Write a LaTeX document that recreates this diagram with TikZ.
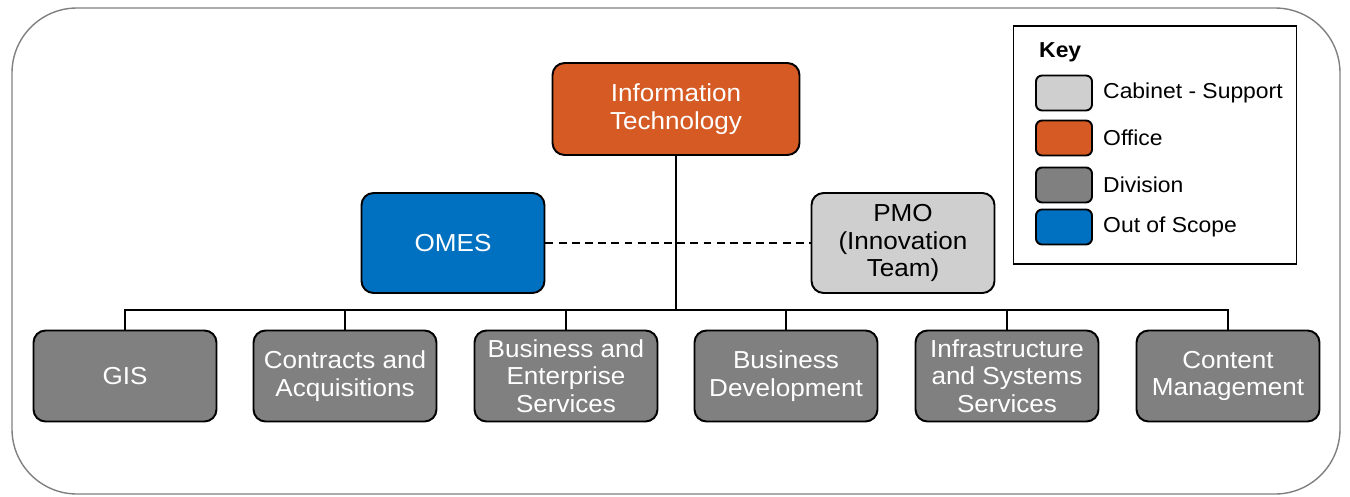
\documentclass[tikz,border=0pt]{standalone}
\usepackage{fontspec}
\setmainfont[FakeStretch=1.06]{Liberation Sans}
\usepackage{xcolor}
\usepackage{tikz}

\definecolor{office}{HTML}{D55A24}
\definecolor{outscope}{HTML}{0070C0}
\definecolor{cabinet}{HTML}{CFCFCF}
\definecolor{division}{HTML}{808080}

\begin{document}
\begin{tikzpicture}[
    x=0.02cm, y=-0.02cm,
    unit/.style={rectangle, rounded corners=0.24cm, draw, line width=1.1pt, align=center, inner sep=1pt, font=\fontsize{14}{15.6}\selectfont},
    divbox/.style={unit, fill=division, text=white, minimum width=3.66cm, minimum height=1.82cm},
    swatch/.style={rectangle, rounded corners=0.12cm, draw, line width=1.1pt, minimum width=1.12cm, minimum height=0.7cm},
    keytext/.style={anchor=west, font=\fontsize{12.3}{14}\selectfont},
    link/.style={line width=1.1pt}
]
\useasboundingbox (0,0) rectangle (1350,497);

% Frame
\draw[gray, line width=0.8pt, rounded corners=1.3cm] (12,8) rectangle (1340,494);

% Top: office and its partners
\node[unit, fill=office, text=white, minimum width=4.94cm, minimum height=1.84cm] (IT) at (676,109) {Information\\Technology};
\node[unit, fill=outscope, text=white, minimum width=3.66cm, minimum height=2cm] (OMES) at (453,243) {OMES};
\node[unit, fill=cabinet, minimum width=3.66cm, minimum height=2cm] (PMO) at (903,243) {PMO\\(Innovation\\Team)};

% Bottom: divisions
\node[divbox] (GIS) at (125,376) {GIS};
\node[divbox] (CA) at (345,376) {Contracts and\\Acquisitions};
\node[divbox] (BES) at (566,376) {Business and\\Enterprise\\Services};
\node[divbox] (BD) at (786,376) {Business\\Development};
\node[divbox] (ISS) at (1007,376) {Infrastructure\\and Systems\\Services};
\node[divbox] (CM) at (1228,376) {Content\\Management};

% Connections
\coordinate (bus) at (676,310);
\draw[link, line width=1.4pt] (IT) -- (bus);
\draw[link] (GIS.north) |- (bus) -| (CM.north);
\foreach \n in {CA,BES,BD,ISS}
    \draw[link] (\n.north) -- (\n.north |- bus);
\draw[link, dash pattern=on 4.5pt off 3pt] (OMES) -- (PMO);

% Key
\node[draw, line width=0.8pt, minimum width=5.66cm, minimum height=4.76cm] (key) at (1155,145) {};
\node[anchor=west, font=\fontsize{12.3}{14}\selectfont\bfseries] (keytitle) at (1033,52) {Key};
\node[swatch, fill=cabinet] (k1) at (1064,93) {};
\node[swatch, fill=office] (k2) at (1064,138) {};
\node[swatch, fill=division] (k3) at (1064,185) {};
\node[swatch, fill=outscope] (k4) at (1064,227) {};
\node[keytext] at (1097,93) {Cabinet - Support};
\node[keytext] at (1097,138) {Office};
\node[keytext] at (1097,185) {Division};
\node[keytext] at (1097,227) {Out of Scope};

\end{tikzpicture}
\end{document}
